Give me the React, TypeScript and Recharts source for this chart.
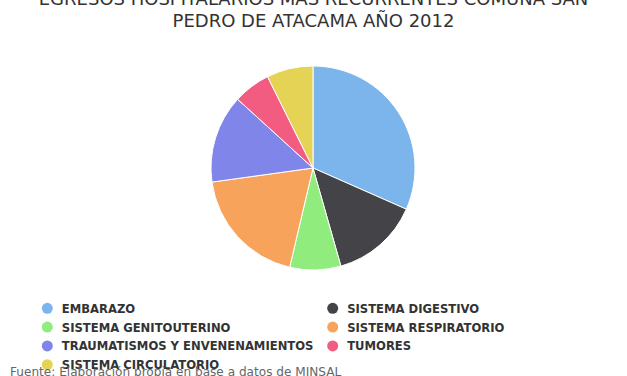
import { PieChart, Pie, Cell } from "recharts";

const categories = [
    "EMBARAZO",
    "SISTEMA DIGESTIVO",
    "SISTEMA GENITOUTERINO",
    "SISTEMA RESPIRATORIO",
    "TRAUMATISMOS Y ENVENENAMIENTOS",
    "TUMORES",
    "SISTEMA CIRCULATORIO",
];
const egresos = [43, 19, 11, 26, 19, 8, 10];
const colors = ["#7cb5ec", "#434348", "#90ed7d", "#f7a35c", "#8085e9", "#f15c80", "#e4d354"];
const titleLines = ["EGRESOS HOSPITALARIOS MÁS RECURRENTES COMUNA SAN", "PEDRO DE ATACAMA AÑO 2012"];
const source = "Fuente: Elaboración propia en base a datos de MINSAL";

const data = categories.map((name, i) => ({ name, value: egresos[i] }));

const W = 627;
const H = 376;

export default function App() {
    return (
        <div style={{ position: "absolute", left: 0, top: 0, width: W, height: H, background: "#fff" }}>
            <PieChart width={W} height={H} margin={{ top: 0, right: 0, bottom: 0, left: 0 }}>
                <Pie
                    data={data}
                    dataKey="value"
                    nameKey="name"
                    cx={313}
                    cy={168}
                    outerRadius={102}
                    startAngle={90}
                    endAngle={-270}
                    stroke="#fff"
                    strokeWidth={1}
                    isAnimationActive={false}
                >
                    {data.map((d, i) => (
                        <Cell key={d.name} fill={colors[i]} />
                    ))}
                </Pie>
            </PieChart>
            <svg
                width={W}
                height={H}
                style={{ position: "absolute", left: 0, top: 0, pointerEvents: "none" }}
            >
                {titleLines.map((t, i) => (
                    <text
                        key={t}
                        x={313.5}
                        y={5 + i * 21.5}
                        textAnchor="middle"
                        fontFamily="DejaVu Sans"
                        fontSize={18}
                        fill="#333"
                    >
                        {t}
                    </text>
                ))}
                {categories.map((c, i) => {
                    const col = i % 2;
                    const row = Math.floor(i / 2);
                    const x = 47.3 + col * 285.4;
                    const y = 308.3 + row * 18.8;
                    return (
                        <g key={c}>
                            <circle cx={x} cy={y} r={5.5} fill={colors[i]} />
                            <text
                                x={x + 14.5}
                                y={y + 4.4}
                                fontFamily="DejaVu Sans"
                                fontWeight="bold"
                                fontSize={11.6}
                                fill="#333"
                            >
                                {c}
                            </text>
                        </g>
                    );
                })}
                <text x={10} y={376} fontFamily="DejaVu Sans" fontSize={12.1} fill="#666">
                    {source}
                </text>
            </svg>
        </div>
    );
}
